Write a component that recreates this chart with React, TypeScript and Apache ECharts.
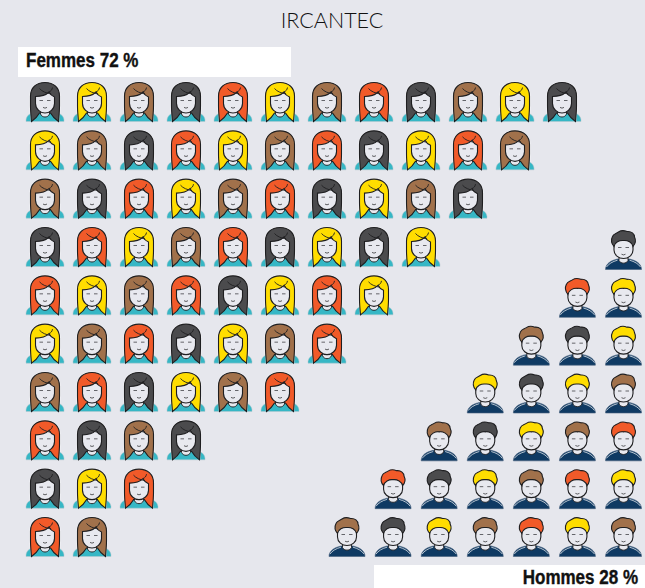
import React, { useEffect, useRef } from "react";
import * as echarts from "echarts";

const title = "IRCANTEC";
const womenLabel = "Femmes 72 %";
const menLabel = "Hommes 28 %";

// Hair colour per icon: D dark, Y yellow, B brown, R red
const womenRows = [
  "DYBDRYBRDBYD",
  "YBDRYBRDYRB",
  "BDRYBRDYBD",
  "DRYBRDYDY",
  "RYBRDYRY",
  "YBRDYBR",
  "BRDYBR",
  "RDBD",
  "DYR",
  "RB",
];
// Men rows are right aligned, listed from the first row in which they appear
const menRows = ["D", "RY", "BDY", "YDYB", "BDYBR", "RDYBRY", "BDYBRYB"];
const menFirstRow = 3;
const menColumns = 7;

const hairColors: Record<string, string> = {
  D: "#4b4b4d",
  Y: "#ffdd00",
  B: "#a1714b",
  R: "#f15a29",
};
const hairKeys = ["D", "Y", "B", "R"];

const womenData: number[][] = [];
womenRows.forEach((row, r) => row.split("").forEach((h, c) => womenData.push([c, r, hairKeys.indexOf(h)])));
const menData: number[][] = [];
menRows.forEach((row, i) =>
  row.split("").forEach((h, c) => menData.push([menColumns - row.length + c, menFirstRow + i, hairKeys.indexOf(h)]))
);

const shapes: Record<string, string> = {
  wBody: "M0 39.5C-0.5 35 3 31 8 30.5L30 30.5C35 31 38.5 35 38 39.5Z",
  wHair: "M19 0.5C10 0.5 4.5 6 4.5 14L4.5 24C4.5 29 5 34 5.5 39.5C8.5 37.5 11.5 34.5 13.5 31L24.5 31C26.5 34.5 29.5 37.5 32.5 39.5C33 34 33.5 29 33.5 24L33.5 14C33.5 6 28 0.5 19 0.5Z",
  wHalo: "M19 0C10 0 4 6 4 14L4 24C4 29 4.5 34 5 39M33 39C33.5 34 34 29 34 24L34 14C34 6 28 0 19 0",
  wNeck: "M14.5 27L14.5 32C16 36 22 36 23.5 32L23.5 27Z",
  wFace: "M9.5 14.5C15 14.5 20 13 23 10C24 12 26 14 28.5 15L28.5 21.5C28.5 27 23.5 31 19 31C14.5 31 9.5 27 9.5 21.5Z",
  wPart: "M13.5 6.5C16 9.5 20 11 25 12M26.5 5.5C26 8 25 9 23 10",
  wEyes: "M13.5 18.5L17 18.5M21 18.5L24.5 18.5",
  wMouth: "M17 25.4Q19 26.9 21 25.4",
  mBody: "M0 39.5C0 34 5 30.5 12 29L24 29C31 30.5 36 34 36 39.5Z",
  mLine: "M1 37C3 34 7 31.5 12 30.2M35 37C33 34 29 31.5 24 30.2",
  mNeck: "M13.5 26L13.5 30.5C15 34 21 34 22.5 30.5L22.5 26Z",
  mFace: "M8.5 10L8.5 20C8.5 25 13 28.5 18 28.5C23 28.5 27.5 25 27.5 20L27.5 10Z",
  mHair: "M8.5 16.5C5.5 13 5.5 9.5 7 6.5C8 3.5 11 3.5 13 2C16 0 19 0.5 21.5 1.5C26 1 29 4 29 7C30.5 10 30.5 13 27.5 16.5C27 12.5 22 10 18 10.5C14 10 9 12.5 8.5 16.5Z",
  mEyes: "M12.5 17.5L16 17.5M20 17.5L23.5 17.5",
  mMouth: "M16 24.2Q18 25.6 20 24.2",
};
Object.keys(shapes).forEach((name) => {
  echarts.graphic.registerShape(name, echarts.graphic.extendPath(shapes[name], {}));
});

const outline = "#1e1e20";
const faceColor = "#e8e9ef";

function womanIcon(params: any, api: any) {
  const [x, y] = api.coord([api.value(0), api.value(1)]);
  const hair = hairColors[hairKeys[api.value(2)]];
  const p = (type: string, style: any) => ({ type, style });
  return {
    type: "group",
    x: x - 19,
    y: y - 20,
    children: [
      p("wBody", { fill: "#36b7c5", stroke: "#b9c6cc", lineWidth: 0.5 }),
      p("wHalo", { fill: "none", stroke: "#ffffff", lineWidth: 1.2, opacity: 0.5 }),
      p("wHair", { fill: hair, stroke: outline, lineWidth: 1.1 }),
      p("wNeck", { fill: faceColor, stroke: outline, lineWidth: 0.9 }),
      p("wFace", { fill: faceColor, stroke: outline, lineWidth: 1.1 }),
      p("wPart", { fill: "none", stroke: outline, lineWidth: 0.9 }),
      p("wEyes", { fill: "none", stroke: "#55565a", lineWidth: 0.9 }),
      p("wMouth", { fill: "none", stroke: "#3a3a3c", lineWidth: 0.8 }),
    ],
  };
}

function manIcon(params: any, api: any) {
  const [x, y] = api.coord([api.value(0), api.value(1)]);
  const hair = hairColors[hairKeys[api.value(2)]];
  const p = (type: string, style: any) => ({ type, style });
  return {
    type: "group",
    x: x - 18,
    y: y - 20,
    children: [
      p("mBody", { fill: "#0f3a63", stroke: "#46607c", lineWidth: 0.6 }),
      p("mLine", { fill: "none", stroke: "#dfe4ea", lineWidth: 0.8 }),
      p("mNeck", { fill: faceColor, stroke: outline, lineWidth: 0.9 }),
      p("mFace", { fill: faceColor, stroke: outline, lineWidth: 1.1 }),
      p("mHair", { fill: hair, stroke: outline, lineWidth: 1.1 }),
      p("mEyes", { fill: "none", stroke: "#55565a", lineWidth: 0.9 }),
      p("mMouth", { fill: "none", stroke: "#3a3a3c", lineWidth: 0.8 }),
    ],
  };
}

const hiddenAxis = { type: "value" as const, show: false };
const labelStyle = { fontFamily: "Liberation Sans", fontWeight: "bold" as const, fontSize: 21, fill: "#111111", stroke: "#111111", lineWidth: 0.4, textVerticalAlign: "middle" as const };

export default function App() {
  const ref = useRef<HTMLDivElement>(null);
  useEffect(() => {
    document.body.style.margin = "0";
    const chart = echarts.init(ref.current!, null, { renderer: "svg" });
    chart.setOption({
      animation: false,
      backgroundColor: "#e6e7ed",
      title: {
        text: title,
        left: 327,
        top: 4,
        textAlign: "center",
        textStyle: { fontFamily: "Lato", fontWeight: 300, fontSize: 21.5, color: "#111111" },
      },
      grid: [
        { left: 45, width: 517, top: 102, height: 435 },
        { left: 347, width: 276.5, top: 250, height: 287 },
      ],
      xAxis: [
        { ...hiddenAxis, gridIndex: 0, min: 0, max: womenRows[0].length - 1 },
        { ...hiddenAxis, gridIndex: 1, min: 0, max: menColumns - 1 },
      ],
      yAxis: [
        { ...hiddenAxis, gridIndex: 0, min: 0, max: womenRows.length - 1, inverse: true },
        { ...hiddenAxis, gridIndex: 1, min: menFirstRow, max: womenRows.length - 1, inverse: true },
      ],
      series: [
        {
          type: "custom",
          name: "Femmes",
          xAxisIndex: 0,
          yAxisIndex: 0,
          silent: true,
          clip: false,
          data: womenData,
          encode: { x: 0, y: 1 },
          renderItem: womanIcon,
        },
        {
          type: "custom",
          name: "Hommes",
          xAxisIndex: 1,
          yAxisIndex: 1,
          silent: true,
          clip: false,
          data: menData,
          encode: { x: 0, y: 1 },
          renderItem: manIcon,
        },
      ],
      graphic: [
        { type: "rect", shape: { x: 18, y: 47, width: 273, height: 30 }, style: { fill: "#ffffff" } },
        {
          type: "text",
          x: 26,
          y: 60,
          scaleX: 0.81,
          style: { ...labelStyle, text: womenLabel },
        },
        { type: "rect", shape: { x: 374, y: 565, width: 271, height: 23 }, style: { fill: "#ffffff" } },
        {
          type: "text",
          x: 638,
          y: 577,
          scaleX: 0.81,
          style: { ...labelStyle, text: menLabel, textAlign: "right" },
        },
      ],
    });
    return () => chart.dispose();
  }, []);
  return <div ref={ref} style={{ width: 645, height: 588 }} />;
}
